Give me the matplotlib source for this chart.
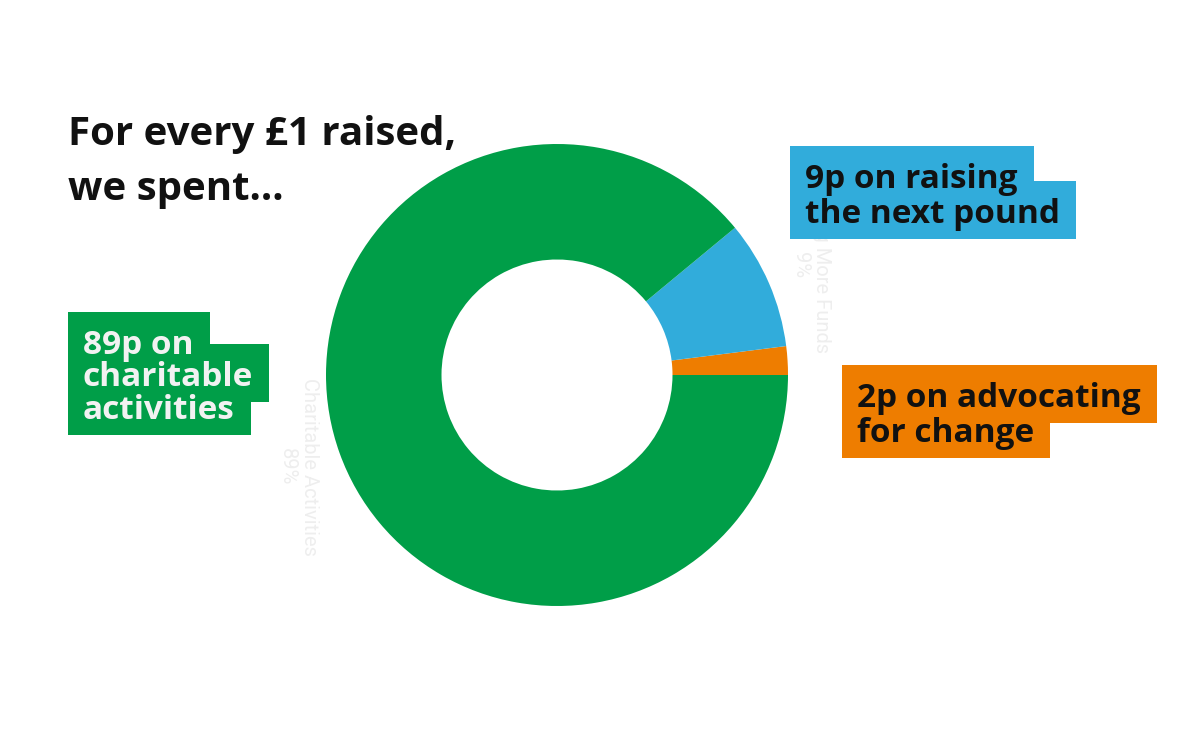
import matplotlib
matplotlib.use("Agg")
import matplotlib.pyplot as plt
from matplotlib.patches import Rectangle

# spending per £1 raised
categories = ['Advocating for Change', 'Raising More Funds', 'Charitable Activities']
values = [2, 9, 89]
colors = ['#ee7d00', '#31acdb', '#009e48']

# callouts: lines, box colour, text colour, left x, first baseline, line step (px)
callouts = [
    (['9p on raising', 'the next pound'], '#31acdb', '#111111', 805, 188, 35),
    (['89p on', 'charitable', 'activities'], '#009e48', '#f2f2f2', 83, 354, 32.5),
    (['2p on advocating', 'for change'], '#ee7d00', '#111111', 857, 407, 35),
]
title_lines = ['For every £1 raised,', 'we spent...']

W, H = 1200, 750
fig = plt.figure(figsize=(12, 7.5), dpi=100)
plt.rcParams['font.family'] = ['Open Sans', 'DejaVu Sans']

# donut
cx, cy, r = 557, 375, 231
ax = fig.add_axes([(cx - r) / W, 1 - (cy + r) / H, 2 * r / W, 2 * r / H])
ax.pie(values, colors=colors, startangle=0, counterclock=True,
       wedgeprops=dict(width=0.5, linewidth=0))
ax.set_xlim(-1, 1)
ax.set_ylim(-1, 1)
ax.axis('off')

# faint default pie labels
faint = '#eeeeee'
fig.text(298 / W, 1 - 467 / H, 'Charitable Activities\n89%', rotation=270,
         ha='center', va='center', color=faint, fontsize=14.5,
         family=['Roboto', 'DejaVu Sans'], multialignment='center')
fig.text(811 / W, 1 - 265 / H, 'Raising More Funds\n9%', rotation=270,
         ha='center', va='center', color=faint, fontsize=14.5,
         family=['Roboto', 'DejaVu Sans'], multialignment='center', zorder=0)

# title
for i, line in enumerate(title_lines):
    fig.text(68 / W, 1 - (145 + i * 55) / H, line, fontsize=29,
             fontweight='bold', color='#111111', ha='left', va='baseline')

# callout text, then a box behind each line sized to the text
fig.canvas.draw()
renderer = fig.canvas.get_renderer()
for lines, bg, fg, x0, y0, step in callouts:
    for i, line in enumerate(lines):
        base = y0 + i * step
        t = fig.text(x0 / W, 1 - base / H, line, fontsize=24, fontweight='bold',
                     color=fg, ha='left', va='baseline', zorder=3)
        right = t.get_window_extent(renderer).x1
        top, bottom = base - 42, base + 16
        fig.patches.append(Rectangle(((x0 - 15) / W, 1 - bottom / H),
                                     (right + 16 - (x0 - 15)) / W,
                                     (bottom - top) / H,
                                     transform=fig.transFigure, fc=bg,
                                     ec='none', zorder=2))

fig.savefig('out.png', dpi=100)
